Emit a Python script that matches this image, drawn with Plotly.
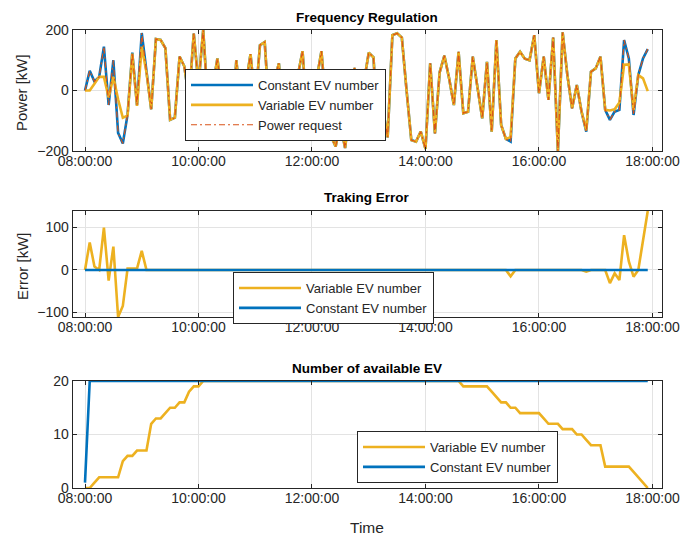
import pandas as pd
import plotly.graph_objects as go

# ---------------- data ----------------
times = pd.date_range("2020-01-01 08:00:00", periods=120, freq="5min")

# Power request [kW] (constant-EV fleet follows it exactly)
power_request = [
    0, 65, 30, 45, 145, -48, 100, -140, -175, -80,
    125, -48, 190, 60, -62, 170, 167, 140, -97, -90,
    112, 80, -30, 188, 20, 200, -50, 10, 106, -30,
    40, -145, 100, -60, 20, 120, -40, 150, 160, -80,
    30, 90, -100, 0, -60, 50, 130, -90, -20, 40,
    130, -60, -150, -185, -110, -190, -60, 75, -90, 30,
    125, 110, -150, -60, -155, 183, 189, 175, 0, -164,
    -169, -136, -193, 90, -142, 60, 115, 40, -48, 128,
    -75, -70, 112, 10, -92, 95, -136, 167, -114, -160,
    -169, 106, 128, 105, 100, 183, -9, 112, -31, 175,
    -200, 192, 51, -59, 18, -70, -136, 62, 73, 112,
    -64, -97, -70, -64, 167, 106, -81, 51, 106, 137,
]
constant_power = list(power_request)

# Tracking error of the variable-EV fleet [kW]
variable_error = [
    0, 65, 8, 0, 100, -25, 55, -111, -85, 3,
    3, 3, 45, 0, 0, 0, 0, 0, 0, 0,
    0, 0, 0, 0, 0, 0, 0, 0, 0, 0,
    0, 0, 0, 0, 0, 0, 0, 0, 0, 0,
    0, 0, 0, 0, 0, 0, 0, 0, 0, 0,
    0, 0, 0, 0, 0, 0, 0, 0, 0, 0,
    0, 0, 0, 0, 0, 0, 0, 0, 0, 0,
    0, 0, 0, 0, 0, 0, 0, 0, 0, 0,
    0, 0, 0, 0, 0, 0, 0, 0, 0, 0,
    -15, 0, 0, 0, 0, 0, 0, 0, 0, 0,
    0, 0, 0, 0, 0, 0, -4, 0, 0, 0,
    0, -31, -8, -24, 82, 20, -16, 0, 66, 139,
]
constant_error = [0] * 120

variable_power = [r - e for r, e in zip(power_request, variable_error)]

# Number of available EVs
variable_ev = [
    0, 0, 1, 2, 2, 2, 2, 2, 5, 6,
    6, 7, 7, 7, 12, 13, 13, 14, 15, 15,
    16, 16, 18, 19, 19, 20, 20, 20, 20, 20,
    20, 20, 20, 20, 20, 20, 20, 20, 20, 20,
    20, 20, 20, 20, 20, 20, 20, 20, 20, 20,
    20, 20, 20, 20, 20, 20, 20, 20, 20, 20,
    20, 20, 20, 20, 20, 20, 20, 20, 20, 20,
    20, 20, 20, 20, 20, 20, 20, 20, 20, 20,
    19, 19, 19, 19, 19, 19, 18, 17, 16, 16,
    15, 15, 14, 14, 14, 14, 14, 13, 12, 12,
    12, 11, 11, 11, 10, 10, 9, 8, 8, 8,
    4, 4, 4, 4, 4, 4, 3, 2, 1, 0,
]
constant_ev = [1] + [20] * 119

top_ticks = [-200, 0, 200]
mid_ticks = [-100, 0, 100]
bot_ticks = [0, 10, 20]

# ---------------- styling ----------------
BLUE = "#0072BD"
ORANGE = "#D95319"
YELLOW = "#EDB120"
DARK = "#262626"
GRID = "#e3e3e3"
FONT = "Liberation Sans, Arial, Helvetica, sans-serif"
W, H = 682, 537
TICK_SIZE = 14
LEG_SIZE = 13

xl, xr = 72.7 / W, 661.7 / W
dom_top = [1 - 151 / H, 1 - 30 / H]
dom_mid = [1 - 317 / H, 1 - 211 / H]
dom_bot = [1 - 488 / H, 1 - 381 / H]
x_range = ["2020-01-01 07:47:00", "2020-01-01 18:09:45"]

fig = go.Figure()

# Top: Frequency regulation
fig.add_trace(go.Scatter(x=times, y=constant_power, mode="lines", name="Constant EV number",
                         line=dict(color=BLUE, width=2.6), xaxis="x", yaxis="y", legend="legend"))
fig.add_trace(go.Scatter(x=times, y=variable_power, mode="lines", name="Variable EV number",
                         line=dict(color=YELLOW, width=2.6), xaxis="x", yaxis="y", legend="legend"))
fig.add_trace(go.Scatter(x=times, y=power_request, mode="lines", name="Power request",
                         line=dict(color=ORANGE, width=1.2, dash="6px,3px,2px,3px"),
                         xaxis="x", yaxis="y", legend="legend"))

# Middle: tracking error
fig.add_trace(go.Scatter(x=times, y=variable_error, mode="lines", name="Variable EV number",
                         line=dict(color=YELLOW, width=2.6), xaxis="x2", yaxis="y2", legend="legend2"))
fig.add_trace(go.Scatter(x=times, y=constant_error, mode="lines", name="Constant EV number",
                         line=dict(color=BLUE, width=2.6), xaxis="x2", yaxis="y2", legend="legend2"))

# Bottom: number of EV
fig.add_trace(go.Scatter(x=times, y=variable_ev, mode="lines", name="Variable EV number",
                         line=dict(color=YELLOW, width=2.6), xaxis="x3", yaxis="y3", legend="legend3"))
fig.add_trace(go.Scatter(x=times, y=constant_ev, mode="lines", name="Constant EV number",
                         line=dict(color=BLUE, width=2.6), xaxis="x3", yaxis="y3", legend="legend3"))


def xaxis(anchor):
    return dict(domain=[xl, xr], anchor=anchor, type="date", range=x_range,
                tickformat="%H:%M:%S", dtick=7200000, tick0="2020-01-01 08:00:00",
                showline=True, linecolor=DARK, linewidth=1, mirror="ticks",
                ticks="inside", ticklen=4, tickcolor=DARK, automargin=False,
                ticklabelstandoff=-3,
                showgrid=True, gridcolor=GRID, gridwidth=1, zeroline=False,
                tickfont=dict(family=FONT, size=TICK_SIZE, color=DARK))


def yaxis(anchor, domain, rng, ticks):
    return dict(domain=domain, anchor=anchor, range=rng, tickvals=ticks,
                showline=True, linecolor=DARK, linewidth=1, mirror="ticks",
                ticks="inside", ticklen=4, tickcolor=DARK, automargin=False,
                showgrid=True, gridcolor=GRID, gridwidth=1, zeroline=False,
                tickfont=dict(family=FONT, size=TICK_SIZE, color=DARK))


leg_common = dict(bgcolor="white", bordercolor=DARK, borderwidth=1,
                  font=dict(family=FONT, size=LEG_SIZE, color=DARK),
                  xanchor="left", yanchor="top", itemwidth=62,
                  tracegroupgap=0)

fig.update_layout(
    width=W, height=H,
    margin=dict(l=0, r=0, t=0, b=0),
    paper_bgcolor="white", plot_bgcolor="white",
    font=dict(family=FONT, color=DARK),
    xaxis=xaxis("y"),
    yaxis=yaxis("x", dom_top, [-200, 200], top_ticks),
    xaxis2=xaxis("y2"),
    yaxis2=yaxis("x2", dom_mid, [-111, 139], mid_ticks),
    xaxis3=xaxis("y3"),
    yaxis3=yaxis("x3", dom_bot, [0, 20], bot_ticks),
    legend=dict(x=185 / W, y=1 - 69 / H, **leg_common),
    legend2=dict(x=233 / W, y=1 - 272 / H, **leg_common),
    legend3=dict(x=357 / W, y=1 - 431 / H, **leg_common),
    showlegend=True,
)

xc = (xl + xr) / 2
ann = [
    dict(text="<b>Frequency Regulation</b>", x=xc, y=1 - 17 / H),
    dict(text="<b>Traking Error</b>", x=xc, y=1 - 197 / H),
    dict(text="<b>Number of available EV</b>", x=xc, y=1 - 368 / H),
]
for a in ann:
    fig.add_annotation(text=a["text"], x=a["x"], y=a["y"], xref="paper", yref="paper",
                       showarrow=False, xanchor="center", yanchor="middle",
                       font=dict(family=FONT, size=13.5, color="black"))

fig.add_annotation(text="Power [kW]", x=22 / W, y=1 - 93 / H, xref="paper", yref="paper",
                   showarrow=False, textangle=-90, xanchor="center", yanchor="middle",
                   font=dict(family=FONT, size=15, color=DARK))
fig.add_annotation(text="Error [kW]", x=22 / W, y=1 - 266 / H, xref="paper", yref="paper",
                   showarrow=False, textangle=-90, xanchor="center", yanchor="middle",
                   font=dict(family=FONT, size=15, color=DARK))
fig.add_annotation(text="Time", x=xc, y=1 - 527 / H, xref="paper", yref="paper",
                   showarrow=False, xanchor="center", yanchor="middle",
                   font=dict(family=FONT, size=15.5, color=DARK))

fig.write_html("out.html")
